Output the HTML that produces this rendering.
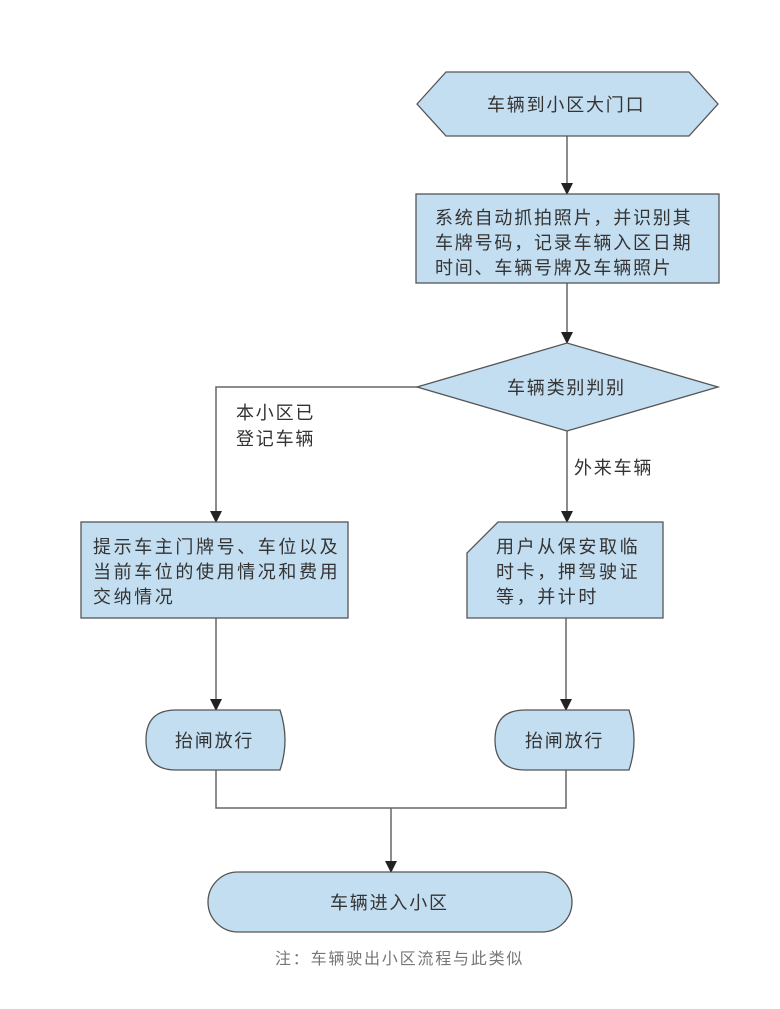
<!DOCTYPE html>
<html><head><meta charset="utf-8"><style>
body{margin:0;background:#fff;}
svg{display:block;font-family:"Liberation Sans","Noto Sans CJK SC",sans-serif;}
</style></head><body>
<svg width="780" height="1009" viewBox="0 0 780 1009" xmlns="http://www.w3.org/2000/svg">
<defs><marker id="a" markerWidth="12" markerHeight="12" refX="10" refY="6" orient="auto" markerUnits="userSpaceOnUse"><path d="M0,0 L12,6 L0,12 z" fill="#222"/></marker></defs>
<g stroke="#666" stroke-width="1.5" fill="none">
<line x1="567" y1="136" x2="567" y2="193" marker-end="url(#a)"/>
<line x1="567" y1="283" x2="567" y2="342" marker-end="url(#a)"/>
<polyline points="417,387 216,387 216,521" marker-end="url(#a)"/>
<line x1="567" y1="431" x2="567" y2="521" marker-end="url(#a)"/>
<line x1="216" y1="618" x2="216" y2="709" marker-end="url(#a)"/>
<line x1="566" y1="618" x2="566" y2="709" marker-end="url(#a)"/>
<polyline points="216,770 216,808 566,808 566,770"/>
<line x1="391" y1="808" x2="391" y2="871" marker-end="url(#a)"/>
</g>
<g fill="#c4def1" stroke="#555" stroke-width="1.3">
<polygon points="417,104 446,72 689,72 718,104 689,136 446,136"/>
<rect x="416" y="194" width="303" height="89"/>
<polygon points="417,387 567,343 718,387 567,431"/>
<rect x="81" y="522" width="267" height="96"/>
<polygon points="498,522 663,522 663,618 467,618 467,553"/>
<path d="M176,710 L280,710 Q290,740 280,770 L176,770 Q146,770 146,740 Q146,710 176,710 Z"/>
<path d="M525,710 L629,710 Q639,740 629,770 L525,770 Q495,770 495,740 Q495,710 525,710 Z"/>
<rect x="208" y="872" width="364" height="60" rx="30"/>
</g>
<g fill="#333" font-size="18" letter-spacing="1.8">
<text x="487" y="111">车辆到小区大门口</text>
<text x="435" y="224">系统自动抓拍照片，并识别其</text>
<text x="435" y="249">车牌号码，记录车辆入区日期</text>
<text x="435" y="274">时间、车辆号牌及车辆照片</text>
<text x="507" y="394">车辆类别判别</text>
<text x="236" y="419">本小区已</text>
<text x="236" y="445">登记车辆</text>
<text x="574" y="474">外来车辆</text>
<g letter-spacing="2.6">
<text x="93" y="553">提示车主门牌号、车位以及</text>
<text x="93" y="578">当前车位的使用情况和费用</text>
<text x="93" y="603">交纳情况</text>
<text x="496" y="553">用户从保安取临</text>
<text x="496" y="578">时卡，押驾驶证</text>
<text x="496" y="603">等，并计时</text>
</g>
<text x="175" y="747">抬闸放行</text>
<text x="525" y="747">抬闸放行</text>
<text x="330" y="909">车辆进入小区</text>
</g>
<text x="275" y="964" font-size="16" letter-spacing="1.8" fill="#777">注：车辆驶出小区流程与此类似</text>
</svg>
</body></html>
